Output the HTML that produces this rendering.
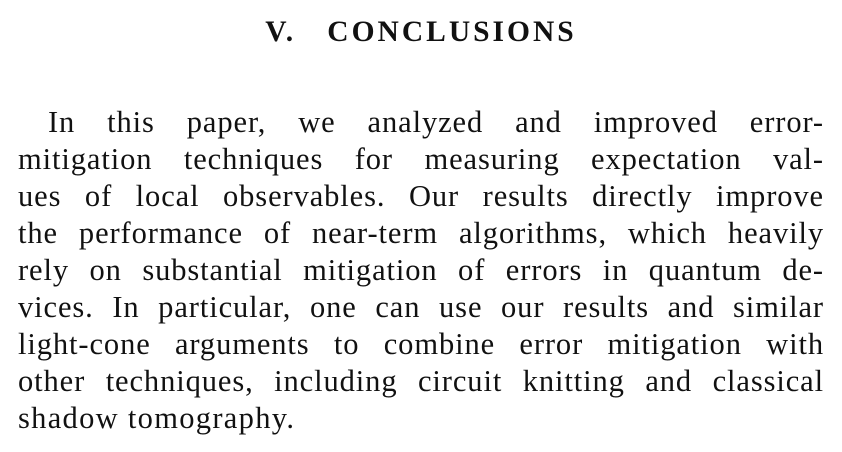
<!DOCTYPE html>
<html>
<head>
<meta charset="utf-8">
<style>
  html, body { margin:0; padding:0; background:#fff; }
  body { width:842px; height:452px; position:relative; overflow:hidden;
         font-family:"Liberation Serif", "DejaVu Serif", serif; color:#111; }
  #title { position:absolute; left:0; width:842px; top:16px; text-align:center;
           font-weight:bold; font-size:29.5px; letter-spacing:3px; }
  #body { position:absolute; left:18px; top:104px; width:806px; }
  .ln { font-size:30.5px; line-height:37px; height:37px; text-align:justify;
        text-align-last:justify; white-space:nowrap; letter-spacing:0.9px; }
  .ln.first { padding-left:30px; }
  .ln.last { text-align-last:left; letter-spacing:1.3px; }
</style>
</head>
<body>
<div id="title">V.&nbsp;&nbsp;&nbsp;CONCLUSIONS</div>
<div id="body">
  <div class="ln first">In this paper, we analyzed and improved error-</div>
  <div class="ln">mitigation techniques for measuring expectation val-</div>
  <div class="ln">ues of local observables. Our results directly improve</div>
  <div class="ln">the performance of near-term algorithms, which heavily</div>
  <div class="ln">rely on substantial mitigation of errors in quantum de-</div>
  <div class="ln">vices. In particular, one can use our results and similar</div>
  <div class="ln">light-cone arguments to combine error mitigation with</div>
  <div class="ln">other techniques, including circuit knitting and classical</div>
  <div class="ln last">shadow tomography.</div>
</div>
</body>
</html>
